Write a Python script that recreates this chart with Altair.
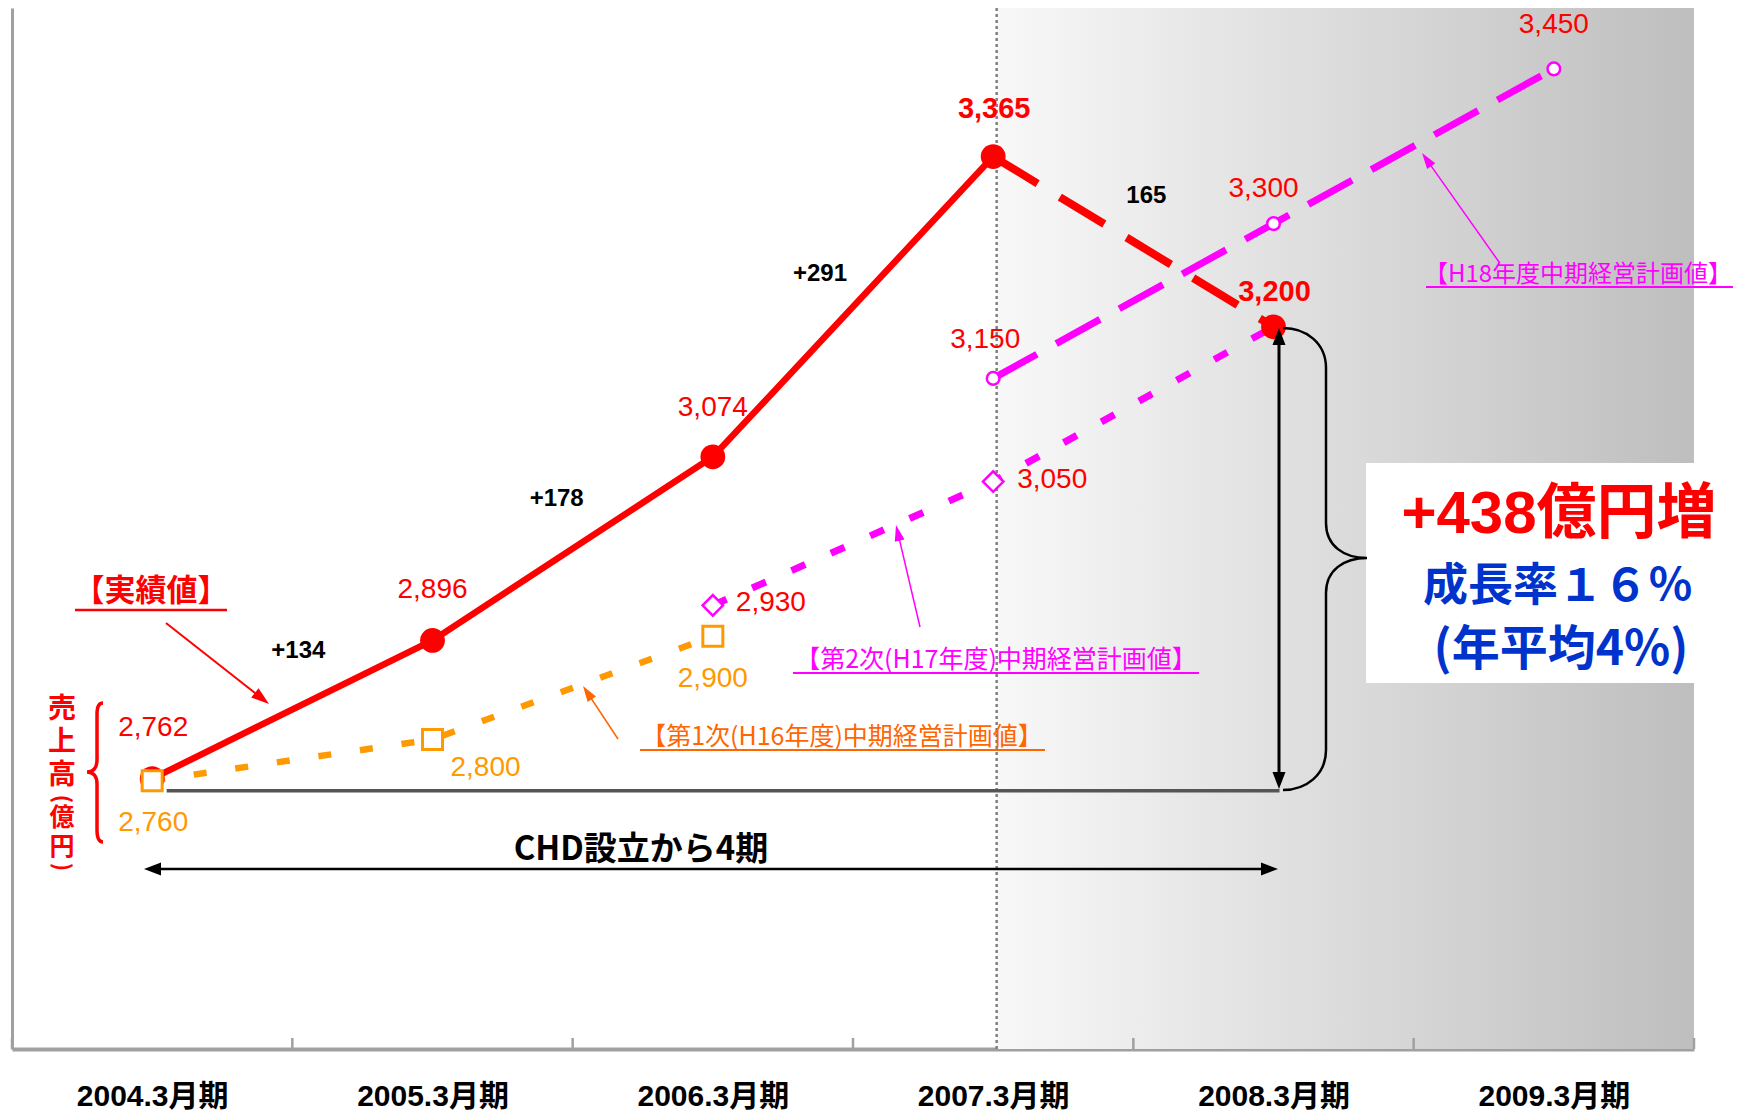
import json
import math

import altair as alt
import pandas as pd

# ---- data -------------------------------------------------------------
periods = ["2004.3月期", "2005.3月期", "2006.3月期", "2007.3月期", "2008.3月期", "2009.3月期"]

# 実績値 (2004-2007) and the 2008 outlook
actual_idx = [0, 1, 2, 3]
actual = [2762, 2896, 3074, 3365]
outlook_idx = [4]
outlook = [3200]

# 第1次(H16年度) plan
plan1_idx = [0, 1, 2]
plan1 = [2760, 2800, 2900]
# 第2次(H17年度) plan
plan2_idx = [2, 3, 4]
plan2 = [2930, 3050, 3200]
# H18年度 plan
plan3_idx = [3, 4, 5]
plan3 = [3150, 3300, 3450]

# ---- layout -----------------------------------------------------------
LEFT, TOP, W, H = 12, 8, 1682, 1041
X_DOM = [0, 6]
Y_DOM = [2500, 3509]
KX = W / (X_DOM[1] - X_DOM[0])
KY = H / (Y_DOM[1] - Y_DOM[0])


def ix(px):
    """canvas pixel -> x data value"""
    return X_DOM[0] + (px - LEFT) / KX


def vy(py):
    """canvas pixel -> y data value"""
    return Y_DOM[1] - (py - TOP) / KY


RED = "#ff0000"
ORANGE = "#ff9900"
ORANGE_TXT = "#ff6600"
MAGENTA = "#ff00ff"
BLUE = "#0033cc"
FONT = "Liberation Sans, Noto Sans CJK JP"
JP = "Noto Sans CJK JP"

x_scale = alt.Scale(domain=X_DOM, nice=False, zero=False)
y_scale = alt.Scale(domain=Y_DOM, nice=False, zero=False)
label_expr = json.dumps(periods, ensure_ascii=False) + "[floor(datum.value)]"
x_axis = alt.Axis(
    values=[i + 0.5 for i in range(len(periods))], labelExpr=label_expr, title=None,
    grid=False, ticks=False, tickSize=0, domainColor="#a0a0a0", domainWidth=4,
    labelFont=FONT, labelFontSize=30, labelFontWeight="bold", labelColor="#000000",
    labelPadding=47, labelBaseline="middle", labelFlush=False, labelOverlap=False,
)
y_axis = alt.Axis(title=None, grid=False, ticks=False, labels=False,
                  domainColor="#a0a0a0", domainWidth=3)


def X(f="x"):
    return alt.X(f"{f}:Q", scale=x_scale, axis=x_axis)


def Y(f="y"):
    return alt.Y(f"{f}:Q", scale=y_scale, axis=y_axis)


def series(idx, vals):
    return pd.DataFrame({"x": [i + 0.5 for i in idx], "y": vals})


def one(**cols):
    return pd.DataFrame({k: [v] for k, v in cols.items()})


layers = []

# ---- background --------------------------------------------------------
split_x = 3.5 + 3.5 / KX  # forecast zone starts at the 2007 period
grad = alt.LinearGradient(
    gradient="linear", x1=0, x2=1, y1=0, y2=0,
    stops=[alt.GradientStop(color="#f8f8f8", offset=0),
           alt.GradientStop(color="#bebebe", offset=1)],
)
layers.append(
    alt.Chart(one(x=split_x, x2=6, y=Y_DOM[0], y2=Y_DOM[1]))
    .mark_rect(color=grad)
    .encode(x=X(), x2="x2:Q", y=Y(), y2="y2:Q")
)
# white panel for the growth summary
layers.append(
    alt.Chart(one(x=ix(1366), x2=6, y=vy(683), y2=vy(463)))
    .mark_rect(color="#ffffff")
    .encode(x=X(), x2="x2:Q", y=Y(), y2="y2:Q")
)
# dotted divider at 2007
layers.append(
    alt.Chart(one(x=split_x, y=Y_DOM[0], y2=Y_DOM[1]))
    .mark_rule(color="#808080", strokeWidth=2.5, strokeDash=[3, 3])
    .encode(x=X(), y=Y(), y2="y2:Q")
)
# period boundary ticks on the x axis
layers.append(
    alt.Chart(pd.DataFrame({"x": list(range(len(periods) + 1)),
                            "y": Y_DOM[0], "y2": Y_DOM[0] + 11 / KY}))
    .mark_rule(color="#a0a0a0", strokeWidth=2.5)
    .encode(x=X(), y=Y(), y2="y2:Q")
)
# baseline from the 2004 result
layers.append(
    alt.Chart(one(x=0.5 + 14.5 / KX, x2=4.5 + 6 / KX, y=actual[0] - 12 / KY))
    .mark_rule(color="#555555", strokeWidth=3.5)
    .encode(x=X(), x2="x2:Q", y=Y())
)

# ---- lines -------------------------------------------------------------
def line(df, color, width, dash=None):
    kw = dict(color=color, strokeWidth=width)
    if dash:
        kw["strokeDash"] = dash
    return alt.Chart(df).mark_line(**kw).encode(x=X(), y=Y())


layers.append(line(series(plan1_idx, plan1), ORANGE, 6.5, [13, 29]))
layers.append(line(series(plan2_idx, plan2), MAGENTA, 7, [15, 28]))
layers.append(line(series(plan3_idx, plan3), MAGENTA, 7, [50, 22]))
layers.append(line(series(actual_idx[-1:] + outlook_idx, actual[-1:] + outlook), RED, 8, [52, 26]))
layers.append(line(series(actual_idx, actual), RED, 6.5))

# ---- markers -----------------------------------------------------------
layers.append(
    alt.Chart(series(actual_idx + outlook_idx, actual + outlook))
    .mark_circle(size=615, color=RED, opacity=1)
    .encode(x=X(), y=Y())
)
layers.append(
    alt.Chart(series(plan1_idx, plan1))
    .mark_point(shape="square", size=400, filled=True, fill="#ffffff",
                stroke=ORANGE, strokeWidth=3, opacity=1)
    .encode(x=X(), y=Y())
)
layers.append(
    alt.Chart(series(plan2_idx[:2], plan2[:2]))
    .mark_point(shape="diamond", size=420, filled=True, fill="#ffffff",
                stroke=MAGENTA, strokeWidth=2.5, opacity=1)
    .encode(x=X(), y=Y())
)
layers.append(
    alt.Chart(series(plan3_idx, plan3))
    .mark_point(shape="circle", size=160, filled=True, fill="#ffffff",
                stroke=MAGENTA, strokeWidth=2.5, opacity=1)
    .encode(x=X(), y=Y())
)

# ---- text helpers ------------------------------------------------------
def text_at(xv, yv, text, color, size, dx=0, dy=0, weight="normal",
            align="center", font=FONT, angle=None):
    kw = dict(color=color, fontSize=size, dx=dx, dy=dy, fontWeight=weight,
              align=align, baseline="middle", font=font)
    if angle is not None:
        kw["angle"] = angle
    return (alt.Chart(one(x=xv, y=yv, t=text))
            .mark_text(**kw).encode(x=X(), y=Y(), text="t:N"))


def fmt(v):
    return f"{v:,}"


# value labels
act_off = [(1, -51), (0, -50), (0, -49), (1, -48)]
for i, v, (dx, dy) in zip(actual_idx, actual, act_off):
    bold = "bold" if i == actual_idx[-1] else "normal"
    layers.append(text_at(i + 0.5, v, fmt(v), RED, 28 if bold == "normal" else 29, dx, dy, bold))
layers.append(text_at(outlook_idx[0] + 0.5, outlook[0], fmt(outlook[0]), RED, 29, 1, -35, "bold"))

for i, v, (dx, dy) in zip(plan1_idx, plan1, [(1, 42), (53, 29), (0, 43)]):
    layers.append(text_at(i + 0.5, v, fmt(v), ORANGE, 28, dx, dy))
for i, v, (dx, dy) in zip(plan2_idx[:2], plan2[:2], [(23, -2), (24, -2)]):
    layers.append(text_at(i + 0.5, v, fmt(v), RED, 28, dx, dy, align="left"))
for i, v, (dx, dy) in zip(plan3_idx, plan3, [(-8, -38), (-10, -35), (0, -44)]):
    layers.append(text_at(i + 0.5, v, fmt(v), RED, 28, dx, dy))

# year-on-year changes
path_idx = actual_idx + outlook_idx
path_val = actual + outlook
diff_off = [(6, -59), (-16, -50), (-33, -33), (13, -46)]
for k, (dx, dy) in enumerate(diff_off):
    a, b = path_val[k], path_val[k + 1]
    d = b - a
    txt = f"+{d}" if d > 0 else f"{-d}"
    xm = (path_idx[k] + path_idx[k + 1]) / 2 + 0.5
    layers.append(text_at(xm, (a + b) / 2, txt, "#000000", 24, dx, dy, "bold"))

# ---- arrows and braces -------------------------------------------------
def head(px, py, angle, color, length, width):
    path = f"M0,0L{-width / 2},{length}L{width / 2},{length}Z"
    return (alt.Chart(one(x=ix(px), y=vy(py)))
            .mark_point(shape=path, size=4, filled=True, color=color,
                        opacity=1, angle=angle % 360)
            .encode(x=X(), y=Y()))


def arrow(p1, p2, color, width, head_len, head_w, both=False):
    (x1, y1), (x2, y2) = p1, p2
    ddx, ddy = x2 - x1, y2 - y1
    n = math.hypot(ddx, ddy)
    ux, uy = ddx / n, ddy / n
    cut = head_len * 0.6
    sx1, sy1 = (x1 + ux * cut, y1 + uy * cut) if both else (x1, y1)
    sx2, sy2 = x2 - ux * cut, y2 - uy * cut
    out = [
        alt.Chart(one(x=ix(sx1), y=vy(sy1), x2=ix(sx2), y2=vy(sy2)))
        .mark_rule(color=color, strokeWidth=width)
        .encode(x=X(), y=Y(), x2="x2:Q", y2="y2:Q"),
        head(x2, y2, math.degrees(math.atan2(ddx, -ddy)), color, head_len, head_w),
    ]
    if both:
        out.append(head(x1, y1, math.degrees(math.atan2(-ddx, ddy)), color, head_len, head_w))
    return out


def brace(px, py, path, color, width):
    return (alt.Chart(one(x=ix(px), y=vy(py)))
            .mark_point(shape=path, size=4, filled=False, color=color,
                        strokeWidth=width, opacity=1)
            .encode(x=X(), y=Y()))


def underline(x1, x2, py, color, width=2):
    return (alt.Chart(one(x=ix(x1), x2=ix(x2), y=vy(py)))
            .mark_rule(color=color, strokeWidth=width)
            .encode(x=X(), x2="x2:Q", y=Y()))


# growth over four periods
layers += arrow((1279, 328), (1279, 789), "#000000", 3, 17, 13, both=True)
layers += arrow((144, 869), (1278, 869), "#000000", 2.5, 17, 13, both=True)
layers.append(text_at(ix(641), vy(850), "CHD設立から4期", "#000000", 33, weight="bold", font=JP))

layers.append(brace(1326, 558,
                    "M-43,-230C-20,-230 0,-215 0,-190L0,-35C0,-12 18,0 41,0"
                    "M41,0C18,0 0,12 0,35L0,192C0,217 -20,232 -43,232",
                    "#000000", 2.5))

# summary panel text
gain = outlook[0] - actual[0]
layers.append(text_at(ix(1559), vy(515), f"+{gain}億円増", RED, 60, weight="bold"))
layers.append(text_at(ix(1558), vy(587), "成長率１６％", BLUE, 45, weight="bold", font=JP))
layers.append(text_at(ix(1561), vy(651), "(年平均4%)", BLUE, 48, weight="bold", font=JP))

# series captions
layers.append(text_at(ix(151), vy(592), "【実績値】", RED, 31, weight="bold", font=JP))
layers.append(underline(75, 227, 610, RED, 2.5))
layers += arrow((166, 623), (269, 704), RED, 2, 18, 12)

layers.append(text_at(ix(842), vy(737), "【第1次(H16年度)中期経営計画値】", ORANGE_TXT, 25, font=JP))
layers.append(underline(640, 1045, 750, ORANGE_TXT))
layers += arrow((618, 739), (583, 686), ORANGE_TXT, 1.5, 16, 10)

layers.append(text_at(ix(996), vy(660), "【第2次(H17年度)中期経営計画値】", MAGENTA, 25, font=JP))
layers.append(underline(793, 1199, 673, MAGENTA))
layers += arrow((920, 627), (896, 525), MAGENTA, 1.5, 16, 10)

layers.append(text_at(ix(1578), vy(275), "【H18年度中期経営計画値】", MAGENTA, 24, font=JP))
layers.append(underline(1426, 1733, 287, MAGENTA))
layers += arrow((1499, 262), (1422, 153), MAGENTA, 1.5, 16, 10)

# vertical caption 売上高(億円), one glyph per row
caption = [("売", 710, 28, None), ("上", 743, 28, None), ("高", 776, 28, None),
           ("(", 799, 22, 90), ("億", 818, 25, None), ("円", 847, 25, None),
           (")", 867, 22, 90)]
for ch, py, size, ang in caption:
    layers.append(text_at(ix(62), vy(py), ch, RED, size, weight="bold", font=JP, angle=ang))
layers.append(brace(97, 772,
                    "M6,-69C1,-69 0,-64 0,-58L0,-12C0,-4 -4,0 -10,0"
                    "M-10,0C-4,0 0,4 0,12L0,58C0,65 1,70 6,70",
                    RED, 3.5))

chart = (
    alt.layer(*layers)
    .properties(
        width=W, height=H,
        autosize=alt.AutoSizeParams(type="none"),
        padding={"left": LEFT, "top": TOP, "right": 1738 - LEFT - W, "bottom": 1111 - TOP - H},
    )
    .configure_view(strokeWidth=0)
)

chart.save("out.html", embed_options={"renderer": "svg", "actions": False})
